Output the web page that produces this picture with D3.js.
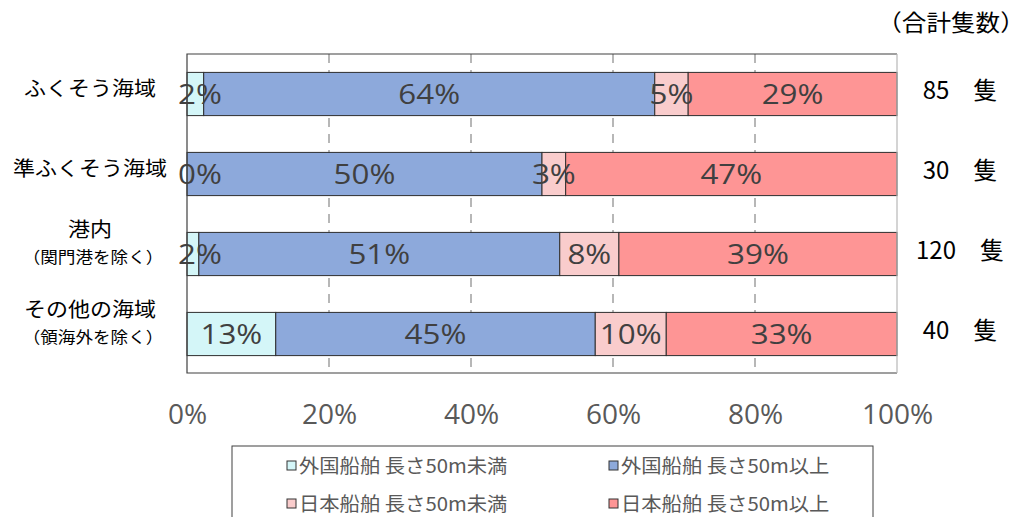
<!DOCTYPE html>
<html>
<head>
<meta charset="utf-8">
<script src="https://cdn.jsdelivr.net/npm/d3@7"></script>
<style>
  body { margin: 0; background: #fff; }
</style>
</head>
<body>
<div class="main"></div>
<script>
// data
var categories = ['ふくそう海域', '準ふくそう海域', '港内', 'その他の海域'];
var subLabels = ['', '', '（関門港を除く）', '（領海外を除く）'];
var seriesNames = ['外国船舶 長さ50m未満', '外国船舶 長さ50m以上', '日本船舶 長さ50m未満', '日本船舶 長さ50m以上'];
// ship counts per area
var foreignUnder50 = [2, 0, 2, 5];
var foreignOver50 = [54, 15, 61, 18];
var japanUnder50 = [4, 1, 10, 4];
var japanOver50 = [25, 14, 47, 13];
var xTicks = [0, 0.2, 0.4, 0.6, 0.8, 1];
var totalTitle = '（合計隻数）';
var unitLabel = '隻';

var keys = ['s0', 's1', 's2', 's3'];
var colors = ['#d4f6f8', '#8da9db', '#f9cccc', '#fe9595'];

var rows = categories.map(function (c, i) {
    var r = { cat: c, sub: subLabels[i], s0: foreignUnder50[i], s1: foreignOver50[i], s2: japanUnder50[i], s3: japanOver50[i] };
    r.total = d3.sum(keys, function (k) { return r[k]; });
    return r;
});

var svg = d3.select('.main')
    .append('svg')
    .attr('width', 1029)
    .attr('height', 517);

var pLeft = 187, pRight = 897, pTop = 54, pBottom = 373;

var x = d3.scaleLinear().domain([0, 1]).range([pLeft, pRight]);
var y = d3.scaleBand().domain(categories).range([pTop, 374]).paddingInner(0.46).paddingOuter(0.23);

// gridlines
svg.append('g')
    .selectAll('line')
    .data(xTicks.slice(1, -1))
    .enter()
    .append('line')
    .attr('x1', function (d) { return x(d); })
    .attr('x2', function (d) { return x(d); })
    .attr('y1', pTop)
    .attr('y2', pBottom)
    .style('stroke', '#a0a0a0')
    .style('stroke-width', '1.5px')
    .style('stroke-dasharray', '9,7');

var stack = d3.stack().keys(keys).offset(d3.stackOffsetExpand);
var layers = stack(rows);

var segs = svg.selectAll('.layer')
    .data(layers)
    .enter()
    .append('g')
    .attr('class', 'layer')
    .attr('fill', function (d, i) { return colors[i]; });

segs.selectAll('rect')
    .data(function (d) { return d; })
    .enter()
    .append('rect')
    .attr('x', function (d) { return x(d[0]); })
    .attr('y', function (d) { return y(d.data.cat); })
    .attr('width', function (d) { return x(d[1]) - x(d[0]); })
    .attr('height', y.bandwidth())
    .style('stroke', '#2e2e2e')
    .style('stroke-width', '1px');

// frame: dark on three sides, light on the right
svg.append('path')
    .attr('d', 'M' + pRight + ',' + pTop + 'H' + pLeft + 'V' + pBottom + 'H' + pRight)
    .style('fill', 'none')
    .style('stroke', '#404040')
    .style('stroke-width', '1.2px');
svg.append('line')
    .attr('x1', pRight).attr('x2', pRight)
    .attr('y1', pTop).attr('y2', pBottom)
    .style('stroke', '#b8b8b8')
    .style('stroke-width', '1.2px');

// segment labels, drawn on top of all bars
var labels = [];
layers.forEach(function (layer) {
    layer.forEach(function (d) {
        labels.push({
            cx: Math.max((x(d[0]) + x(d[1])) / 2, pLeft + 13),
            cy: y(d.data.cat) + y.bandwidth() / 2,
            text: Math.round(d.data[layer.key] * 100 / d.data.total) + '%'
        });
    });
});

svg.append('g')
    .selectAll('text')
    .data(labels)
    .enter()
    .append('text')
    .attr('transform', function (d) { return 'translate(' + [d.cx, d.cy] + ') scale(1.12,1)'; })
    .attr('dy', '0.36em')
    .attr('text-anchor', 'middle')
    .style('font-family', '"Open Sans", sans-serif')
    .style('font-size', '28px')
    .style('fill', '#404040')
    .text(function (d) { return d.text; });

// x axis
var axis = svg.append('g')
    .attr('transform', 'translate(0,' + pBottom + ')')
    .call(d3.axisBottom(x).tickValues(xTicks).tickFormat(d3.format('.0%')).tickSize(0).tickPadding(31));
axis.select('.domain').remove();
axis.selectAll('text')
    .style('font-family', '"Open Sans", sans-serif')
    .style('font-size', '28px')
    .style('fill', '#595959');

// category labels
var cats = svg.append('g')
    .selectAll('g')
    .data(rows)
    .enter()
    .append('g');

cats.append('text')
    .attr('transform', function (d) {
        var cy = y(d.cat) + y.bandwidth() / 2 + (d.sub ? -24 : -5);
        return 'translate(' + [90, cy] + ') scale(1.1,1)';
    })
    .attr('dy', '0.36em')
    .attr('text-anchor', 'middle')
    .style('font-family', '"Noto Sans CJK JP", sans-serif')
    .style('font-size', '20px')
    .style('fill', '#000')
    .text(function (d) { return d.cat; });

cats.filter(function (d) { return d.sub; })
    .append('text')
    .attr('transform', function (d) {
        var cy = y(d.cat) + y.bandwidth() / 2 + 3;
        return 'translate(' + [93, cy] + ') scale(1.1,1)';
    })
    .attr('dy', '0.36em')
    .attr('text-anchor', 'middle')
    .style('font-family', '"Noto Sans CJK JP", sans-serif')
    .style('font-size', '16px')
    .style('fill', '#000')
    .text(function (d) { return d.sub; });

// totals on the right
svg.append('text')
    .attr('transform', 'translate(951,23) scale(1.07,1)')
    .attr('dy', '0.36em')
    .attr('text-anchor', 'middle')
    .style('font-family', '"Noto Sans CJK JP", sans-serif')
    .style('font-size', '23px')
    .style('fill', '#000')
    .text(totalTitle);

svg.append('g')
    .selectAll('text')
    .data(rows)
    .enter()
    .append('text')
    .attr('x', 960)
    .attr('y', function (d) { return y(d.cat) + y.bandwidth() / 2 - 4; })
    .attr('dy', '0.36em')
    .attr('text-anchor', 'middle')
    .style('font-family', '"Noto Sans CJK JP", sans-serif')
    .style('font-size', '24px')
    .style('fill', '#000')
    .text(function (d) { return d.total + '\u3000' + unitLabel; });

// legend
svg.append('rect')
    .attr('x', 232)
    .attr('y', 446)
    .attr('width', 641)
    .attr('height', 120)
    .style('fill', '#fff')
    .style('stroke', '#404040')
    .style('stroke-width', '1px');

var leg = svg.append('g')
    .selectAll('g')
    .data(seriesNames)
    .enter()
    .append('g')
    .attr('transform', function (d, i) {
        return 'translate(' + [i % 2 ? 609 : 287, i < 2 ? 466 : 504] + ')';
    });

leg.append('rect')
    .attr('x', 0)
    .attr('y', -5)
    .attr('width', 9)
    .attr('height', 9)
    .style('fill', function (d, i) { return colors[i]; })
    .style('stroke', '#333')
    .style('stroke-width', '1px');

leg.append('text')
    .attr('transform', 'translate(12,0) scale(1.07,1)')
    .attr('dy', '0.36em')
    .style('font-family', '"Noto Sans CJK JP", sans-serif')
    .style('font-size', '19px')
    .style('fill', '#595959')
    .text(function (d) { return d; });
</script>
</body>
</html>
